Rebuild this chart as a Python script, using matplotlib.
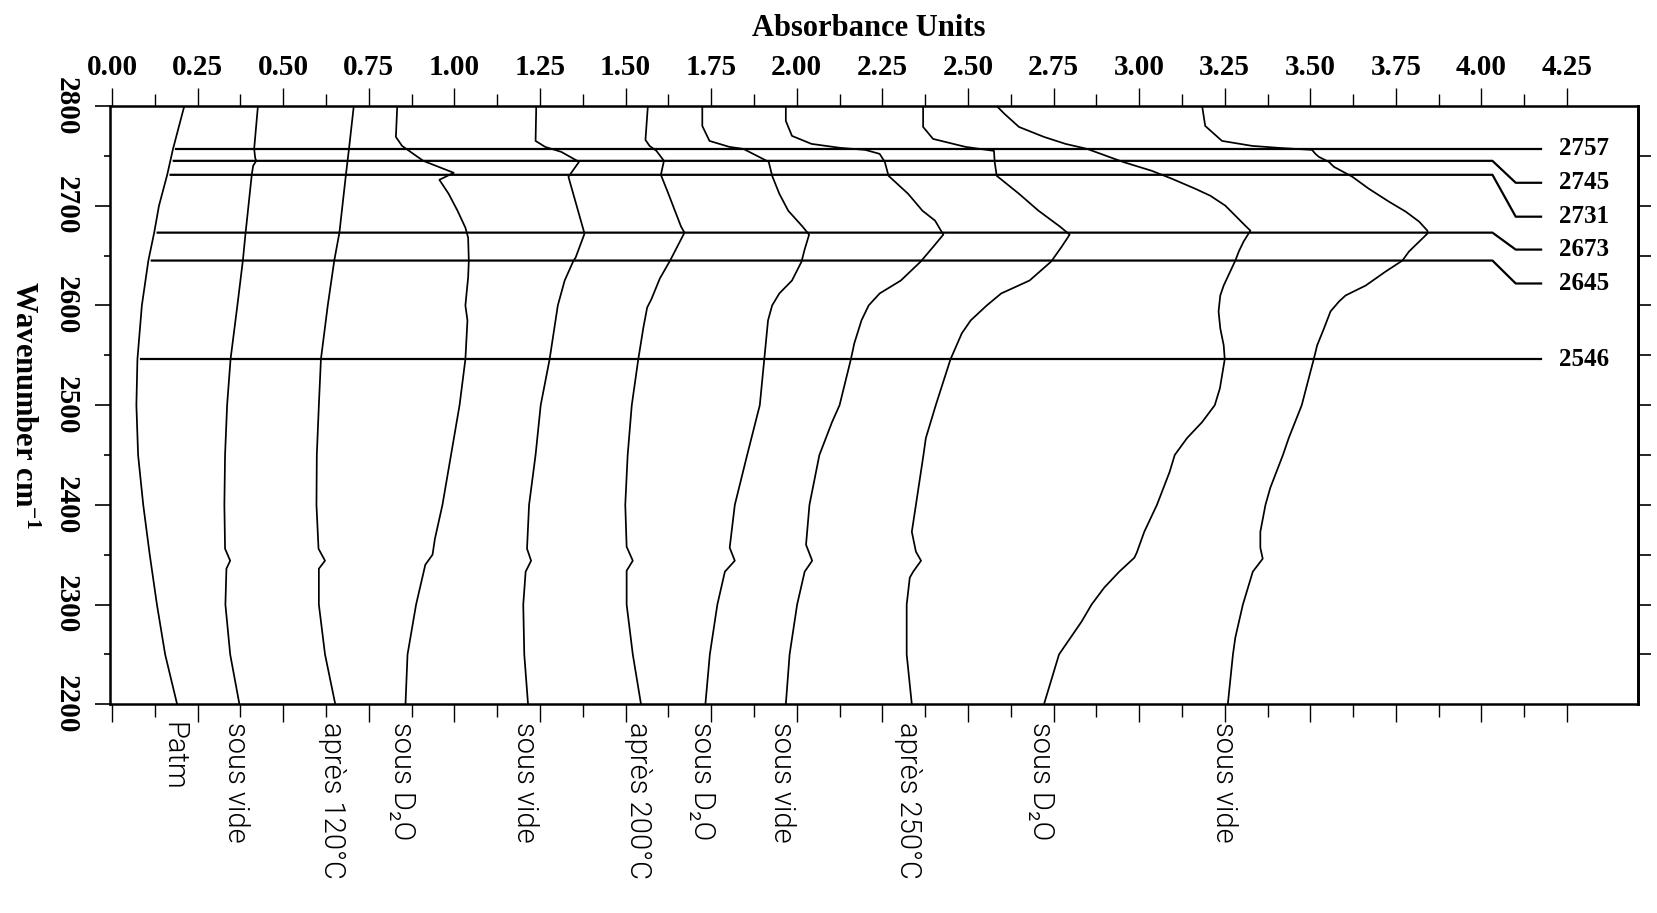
import numpy as np
import matplotlib
matplotlib.use("Agg")
import matplotlib.pyplot as plt

# spectra (wavenumber cm-1 -> absorbance units)
patm_wn = [2800, 2757, 2731, 2700, 2673, 2645, 2600, 2546, 2500, 2450, 2400, 2350, 2300, 2250, 2200]
patm_ab = [0.211, 0.178, 0.161, 0.137, 0.123, 0.106, 0.087, 0.074, 0.071, 0.076, 0.091, 0.110, 0.131, 0.155, 0.190]

vide1_wn = [2800, 2757, 2748, 2745, 2740, 2731, 2673, 2645, 2600, 2546, 2500, 2450, 2400, 2356, 2344, 2336, 2300, 2250, 2200]
vide1_ab = [0.426, 0.415, 0.418, 0.421, 0.412, 0.408, 0.390, 0.382, 0.366, 0.346, 0.336, 0.330, 0.328, 0.330, 0.345, 0.334, 0.331, 0.345, 0.372]

t120_wn = [2800, 2757, 2731, 2673, 2645, 2600, 2546, 2500, 2450, 2400, 2356, 2344, 2336, 2300, 2250, 2200]
t120_ab = [0.706, 0.692, 0.683, 0.664, 0.649, 0.630, 0.610, 0.604, 0.598, 0.597, 0.603, 0.622, 0.604, 0.604, 0.622, 0.652]

d2o1_wn = [2800, 2769, 2760, 2752, 2745, 2733, 2726, 2712, 2695, 2678, 2668, 2645, 2628, 2600, 2585, 2546,
           2500, 2450, 2400, 2366, 2350, 2340, 2300, 2250, 2200]
d2o1_ab = [0.833, 0.829, 0.847, 0.880, 0.909, 0.998, 0.956, 0.983, 1.009, 1.032, 1.040, 1.042, 1.040, 1.032, 1.038, 1.032,
           1.015, 0.990, 0.965, 0.943, 0.936, 0.915, 0.888, 0.863, 0.857]

vide2_wn = [2800, 2765, 2759, 2754, 2744, 2729, 2672, 2648, 2645, 2625, 2600, 2546, 2500, 2450, 2400, 2356, 2344,
            2333, 2300, 2250, 2200]
vide2_ab = [1.239, 1.237, 1.265, 1.312, 1.364, 1.333, 1.380, 1.354, 1.348, 1.322, 1.302, 1.278, 1.252, 1.237, 1.218,
            1.212, 1.224, 1.208, 1.201, 1.204, 1.215]

t200_wn = [2800, 2766, 2760, 2755, 2745, 2731, 2712, 2695, 2679, 2673, 2645, 2627, 2606, 2598, 2578, 2546, 2500,
           2450, 2400, 2358, 2344, 2334, 2300, 2250, 2200]
t200_ab = [1.565, 1.558, 1.570, 1.590, 1.612, 1.603, 1.625, 1.644, 1.662, 1.672, 1.630, 1.600, 1.575, 1.563, 1.552,
           1.537, 1.518, 1.506, 1.499, 1.503, 1.521, 1.503, 1.503, 1.521, 1.545]

d2o2_wn = [2800, 2780, 2765, 2759, 2757, 2744, 2730, 2712, 2695, 2679, 2671, 2655, 2644, 2625, 2612, 2600, 2585,
           2546, 2500, 2450, 2400, 2357, 2344, 2333, 2300, 2250, 2200]
d2o2_ab = [1.724, 1.724, 1.745, 1.803, 1.844, 1.918, 1.928, 1.949, 1.975, 2.017, 2.036, 2.022, 2.014, 1.986, 1.949,
           1.928, 1.916, 1.905, 1.892, 1.855, 1.819, 1.804, 1.819, 1.790, 1.768, 1.746, 1.733]

vide3_wn = [2800, 2785, 2770, 2762, 2758, 2756, 2752, 2744, 2730, 2712, 2695, 2685, 2671, 2659, 2644, 2625, 2612,
            2600, 2585, 2562, 2546, 2500, 2483, 2450, 2400, 2360, 2344, 2333, 2300, 2250, 2200]
vide3_ab = [1.968, 1.968, 1.986, 2.043, 2.127, 2.200, 2.242, 2.257, 2.268, 2.325, 2.367, 2.404, 2.428, 2.399, 2.362,
            2.304, 2.242, 2.210, 2.189, 2.168, 2.158, 2.125, 2.103, 2.066, 2.037, 2.027, 2.045, 2.023, 2.001, 1.979, 1.968]

t250_wn = [2800, 2779, 2767, 2759, 2755, 2744, 2730, 2712, 2695, 2679, 2671, 2659, 2644, 2625, 2612, 2600, 2585,
           2572, 2546, 2500, 2467, 2450, 2400, 2373, 2353, 2344, 2333, 2327, 2300, 2250, 2200]
t250_ab = [2.369, 2.369, 2.398, 2.493, 2.576, 2.578, 2.584, 2.649, 2.706, 2.769, 2.797, 2.774, 2.743, 2.680, 2.597,
           2.555, 2.508, 2.482, 2.449, 2.406, 2.377, 2.370, 2.348, 2.336, 2.348, 2.363, 2.340, 2.330, 2.321, 2.321, 2.336]

d2o3_wn = [2800, 2792, 2779, 2769, 2762, 2757, 2744, 2735, 2727, 2717, 2710, 2700, 2690, 2680, 2675, 2664, 2654,
           2645, 2634, 2620, 2610, 2594, 2577, 2560, 2546, 2517, 2500, 2483, 2467, 2450, 2433, 2400, 2373, 2352,
           2347, 2333, 2317, 2300, 2283, 2250, 2217, 2200]
d2o3_ab = [2.584, 2.607, 2.649, 2.722, 2.785, 2.848, 2.952, 3.037, 3.096, 3.164, 3.208, 3.252, 3.281, 3.310, 3.325,
           3.305, 3.291, 3.281, 3.266, 3.247, 3.237, 3.232, 3.237, 3.247, 3.250, 3.236, 3.221, 3.184, 3.140, 3.104,
           3.089, 3.052, 3.015, 2.993, 2.986, 2.942, 2.898, 2.861, 2.832, 2.766, 2.737, 2.722]

vide4_wn = [2800, 2780, 2765, 2760, 2758, 2756, 2752, 2749, 2744, 2739, 2729, 2717, 2704, 2694, 2684, 2675, 2672,
            2664, 2654, 2645, 2634, 2620, 2610, 2604, 2594, 2577, 2560, 2546, 2533, 2500, 2467, 2450, 2417, 2400,
            2373, 2357, 2346, 2333, 2300, 2267, 2250, 2200]
vide4_ab = [3.184, 3.193, 3.242, 3.330, 3.408, 3.505, 3.515, 3.525, 3.554, 3.569, 3.623, 3.671, 3.730, 3.779, 3.818,
            3.842, 3.842, 3.818, 3.788, 3.769, 3.720, 3.662, 3.603, 3.584, 3.559, 3.540, 3.520, 3.510, 3.500, 3.475,
            3.437, 3.420, 3.383, 3.369, 3.354, 3.354, 3.361, 3.332, 3.303, 3.281, 3.274, 3.259]

spectra = [(patm_wn, patm_ab), (vide1_wn, vide1_ab), (t120_wn, t120_ab), (d2o1_wn, d2o1_ab),
           (vide2_wn, vide2_ab), (t200_wn, t200_ab), (d2o2_wn, d2o2_ab), (vide3_wn, vide3_ab),
           (t250_wn, t250_ab), (d2o3_wn, d2o3_ab), (vide4_wn, vide4_ab)]
sample_labels = ["Patm", "sous vide", "après 120°C", "sous D₂O", "sous vide", "après 200°C",
                 "sous D₂O", "sous vide", "après 250°C", "sous D₂O", "sous vide"]

# marked bands and where their labels sit on the right
band_wn = [2757, 2745, 2731, 2673, 2645, 2546]
band_label_wn = [2757, 2723, 2689, 2656, 2622, 2546]

plt.rcParams["font.family"] = ["Liberation Serif", "DejaVu Serif"]
plt.rcParams["mathtext.fontset"] = "custom"
plt.rcParams["mathtext.rm"] = "Liberation Serif:bold"
plt.rcParams["mathtext.it"] = "Liberation Serif:bold"
plt.rcParams["mathtext.bf"] = "Liberation Serif:bold"

fig = plt.figure(figsize=(16.57, 9.13), dpi=100)
ax = fig.add_axes([0.0664, 0.2286, 0.9221, 0.6553])

for wn, ab in spectra:
    ax.plot(ab, wn, color="black", lw=1.25)

# horizontal band lines, starting at the Patm curve
for w, lw_ in zip(band_wn, band_label_wn):
    x0 = np.interp(w, patm_wn[::-1], patm_ab[::-1]) + 0.01
    if w == lw_:
        xs, ys = [x0, 4.174], [w, w]
    else:
        xs, ys = [x0, 4.032, 4.10, 4.174], [w, w, lw_, lw_]
    ax.plot(xs, ys, color="black", lw=1.6)
    ax.text(4.225, lw_, str(w), fontsize=18, fontweight="bold", va="center", ha="left")

# handwritten sample names below the plot
for (wn, ab), lab in zip(spectra, sample_labels):
    ax.annotate(lab, xy=(ab[-1] - 0.01, 0), xycoords=("data", "axes fraction"),
                xytext=(0, -13), textcoords="offset points", rotation=-90,
                ha="center", va="top", fontsize=21, fontweight=300, color="black",
                family=["Roboto", "DejaVu Sans"])

ax.set_xlim(-0.006, 4.457)
ax.set_ylim(2200, 2800)

ax.set_xticks(np.arange(0, 4.26, 0.25))
ax.set_xticks(np.arange(0.125, 4.3, 0.25), minor=True)
ax.set_xticklabels(["%.2f" % v for v in np.arange(0, 4.26, 0.25)], fontsize=21, fontweight="bold")
ax.tick_params(axis="x", which="both", top=True, bottom=True, labeltop=True, labelbottom=False,
               direction="out", width=1.0)
ax.tick_params(axis="x", which="major", length=13, pad=5)
ax.tick_params(axis="x", which="minor", length=9)

ax.set_yticks(np.arange(2200, 2801, 100))
ax.set_yticks(np.arange(2250, 2800, 100), minor=True)
ax.set_yticklabels([str(v) for v in range(2200, 2801, 100)], fontsize=21, fontweight="bold",
                   rotation=-90, va="center")
ax.tick_params(axis="y", which="both", left=True, right=False, direction="out", width=1.2)
ax.tick_params(axis="y", which="major", length=11, pad=11)
ax.tick_params(axis="y", which="minor", length=4)

sec = ax.secondary_yaxis("right")
sec.set_yticks(np.arange(2250, 2800, 50))
sec.tick_params(axis="y", direction="out", length=9, width=1.2, labelright=False)
sec.spines["right"].set_linewidth(2.0)

for s in ax.spines.values():
    s.set_linewidth(1.8)

ax.set_xlabel("Absorbance Units", fontsize=22, fontweight="bold")
ax.xaxis.set_label_position("top")
ax.xaxis.set_label_coords(0.4967, 1.13)
ax.xaxis.label.set_va("center")

ax.set_ylabel(r"Wavenumber cm$^{-1}$", fontsize=22, fontweight="bold", rotation=-90)
ax.yaxis.set_label_coords(-0.057, 0.5)
ax.yaxis.label.set_va("center")

fig.savefig("out.png", dpi=100)
